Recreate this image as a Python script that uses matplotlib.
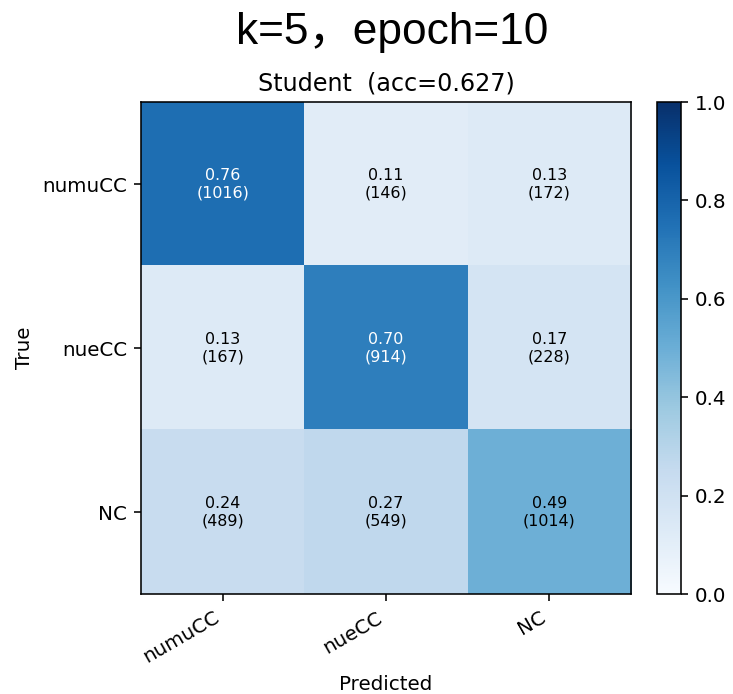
import numpy as np
import matplotlib
matplotlib.use('Agg')
from matplotlib import pyplot as plt

labels = ['numuCC', 'nueCC', 'NC']
counts = np.array([[1016, 146, 172],
                   [167, 914, 228],
                   [489, 549, 1014]])
acc = 0.627

if __name__ == '__main__':
    norm = counts / counts.sum(axis=1, keepdims=True)
    # rendered at a higher dpi so text/ticks scale up like the reference
    fig = plt.figure(figsize=(733 / 143, 694 / 143), dpi=143)
    fig.text(0.535, 0.953, 'k=5，epoch=10', ha='center', va='center', fontsize=22.3,
             family=['Liberation Sans', 'Noto Sans CJK SC', 'DejaVu Sans'])
    ax = fig.add_axes([0.1924, 0.144, 0.6686, 0.709])
    cax = fig.add_axes([0.8963, 0.144, 0.0327, 0.709])
    im = ax.imshow(norm, cmap='Blues', vmin=0, vmax=1, aspect='auto')
    cb = fig.colorbar(im, cax=cax)
    cb.set_ticks([0, 0.2, 0.4, 0.6, 0.8, 1.0])
    for i in range(3):
        for j in range(3):
            c = 'white' if norm[i, j] > 0.5 else 'black'
            ax.text(j, i, '%.2f\n(%d)' % (norm[i, j], counts[i, j]),
                    ha='center', va='center', fontsize=8, color=c)
    ax.set_xticks(range(3))
    ax.set_yticks(range(3))
    ax.set_xticklabels(labels, rotation=30, ha='right')
    ax.set_yticklabels(labels)
    ax.set_xlabel('Predicted')
    ax.set_ylabel('True')
    ax.set_title('Student  (acc=%.3f)' % acc, fontsize=12)
    fig.savefig('out.png')
